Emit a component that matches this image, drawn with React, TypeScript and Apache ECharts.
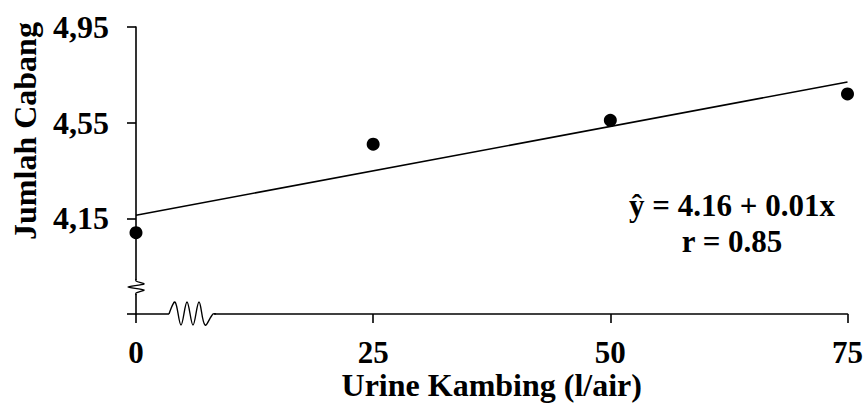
import React, { useEffect, useRef } from "react";
import * as echarts from "echarts";

// Data
const xTickValues = [0, 25, 50, 75];
const pointX = [0, 25, 50, 75];
const pointY = [4.09, 4.46, 4.56, 4.67];
const fitX = [0, 75];
const fitY = [4.163, 4.72];
const yTickValues = [3.75, 4.15, 4.55, 4.95];
const yLabelValues = [4.15, 4.55, 4.95];
const xAxisTitle = "Urine Kambing (l/air)";
const yAxisTitle = "Jumlah Cabang";
const equationLine1 = "\u0177 = 4.16 + 0.01x";
const equationLine2 = "r = 0.85";

const FONT = '"Liberation Serif", "Times New Roman", serif';

export default function App() {
  const ref = useRef<HTMLDivElement>(null);

  useEffect(() => {
    if (!ref.current) return;
    const chart = echarts.init(ref.current, null, { renderer: "svg" });
    const option: any = {
      animation: false,
      backgroundColor: "#ffffff",
      grid: { left: 136, right: 18, top: 27, bottom: 89, containLabel: false },
      xAxis: {
        type: "value",
        min: 0,
        max: 75,
        interval: 25,
        splitLine: { show: false },
        axisLine: { show: true, onZero: false, lineStyle: { color: "#000", width: 1.6 } },
        axisTick: { show: true, length: 9, lineStyle: { color: "#000", width: 1.6 }, customValues: xTickValues },
        axisLabel: {
          show: true,
          margin: 23,
          color: "#000",
          fontFamily: FONT,
          fontWeight: "bold",
          fontSize: 31,
          customValues: xTickValues,
        },
      },
      yAxis: {
        type: "value",
        min: 3.75,
        max: 4.95,
        splitLine: { show: false },
        axisLine: { show: true, onZero: false, lineStyle: { color: "#000", width: 1.6 } },
        axisTick: { show: true, length: 9, lineStyle: { color: "#000", width: 1.6 }, customValues: yTickValues },
        axisLabel: {
          show: true,
          margin: 27,
          color: "#000",
          fontFamily: FONT,
          fontWeight: "bold",
          fontSize: 32,
          customValues: yLabelValues,
          formatter: (v: number) => v.toFixed(2).replace(".", ","),
        },
      },
      series: [
        {
          type: "line",
          data: fitX.map((x, i) => [x, fitY[i]]),
          symbol: "none",
          lineStyle: { color: "#000", width: 1.6 },
          z: 3,
        },
        {
          type: "scatter",
          data: pointX.map((x, i) => [x, pointY[i]]),
          symbol: "circle",
          symbolSize: 13,
          itemStyle: { color: "#000", opacity: 1 },
          z: 4,
        },
      ],
    };
    chart.setOption(option);

    const o = chart.convertToPixel({ gridIndex: 0 }, [0, 3.75]) as number[];
    const ox = o[0];
    const oy = o[1];
    const pRight = chart.convertToPixel({ gridIndex: 0 }, [75, 3.75]) as number[];
    const midX = (ox + pRight[0]) / 2;

    const textStyle = (text: string, size: number) => ({
      text,
      font: `bold ${size}px ${FONT}`,
      fill: "#000",
      align: "center",
      verticalAlign: "middle",
      textAlign: "center",
      textVerticalAlign: "middle",
    });

    chart.setOption({
      graphic: [
        // x-axis break
        { type: "rect", z: 100, shape: { x: ox + 33, y: oy - 4, width: 45, height: 8 }, style: { fill: "#fff" } },
        {
          type: "polyline",
          z: 101,
          shape: {
            points: [
              [ox + 33, oy],
              [ox + 39, oy - 12],
              [ox + 45, oy + 11],
              [ox + 51, oy - 12],
              [ox + 57, oy + 11],
              [ox + 63, oy - 12],
              [ox + 69, oy + 11],
              [ox + 77, oy],
              [ox + 80, oy],
            ],
            smooth: 0.35,
          },
          style: { stroke: "#000", lineWidth: 1.4, fill: null },
        },
        // y-axis break
        { type: "rect", z: 100, shape: { x: ox - 4, y: oy - 34, width: 8, height: 14 }, style: { fill: "#fff" } },
        {
          type: "polyline",
          z: 101,
          shape: {
            points: [
              [ox, oy - 35],
              [ox, oy - 33],
              [ox + 8, oy - 30],
              [ox - 8, oy - 27],
              [ox + 8, oy - 24],
              [ox, oy - 21],
              [ox, oy - 19],
            ],
            smooth: 0.3,
          },
          style: { stroke: "#000", lineWidth: 1.4, fill: null },
        },
        // axis titles
        { type: "text", x: midX, y: 385, z: 50, style: textStyle(xAxisTitle, 32) },
        { type: "text", x: 25, y: 131, rotation: Math.PI / 2, z: 50, style: textStyle(yAxisTitle, 32) },
        // equation
        { type: "text", x: 732, y: 205, z: 50, style: textStyle(equationLine1, 31) },
        { type: "text", x: 732, y: 241, z: 50, style: textStyle(equationLine2, 31) },
      ],
    });

    return () => {
      chart.dispose();
    };
  }, []);

  return (
    <div
      ref={ref}
      style={{ position: "fixed", left: 0, top: 0, width: 866, height: 403, background: "#fff" }}
    />
  );
}
